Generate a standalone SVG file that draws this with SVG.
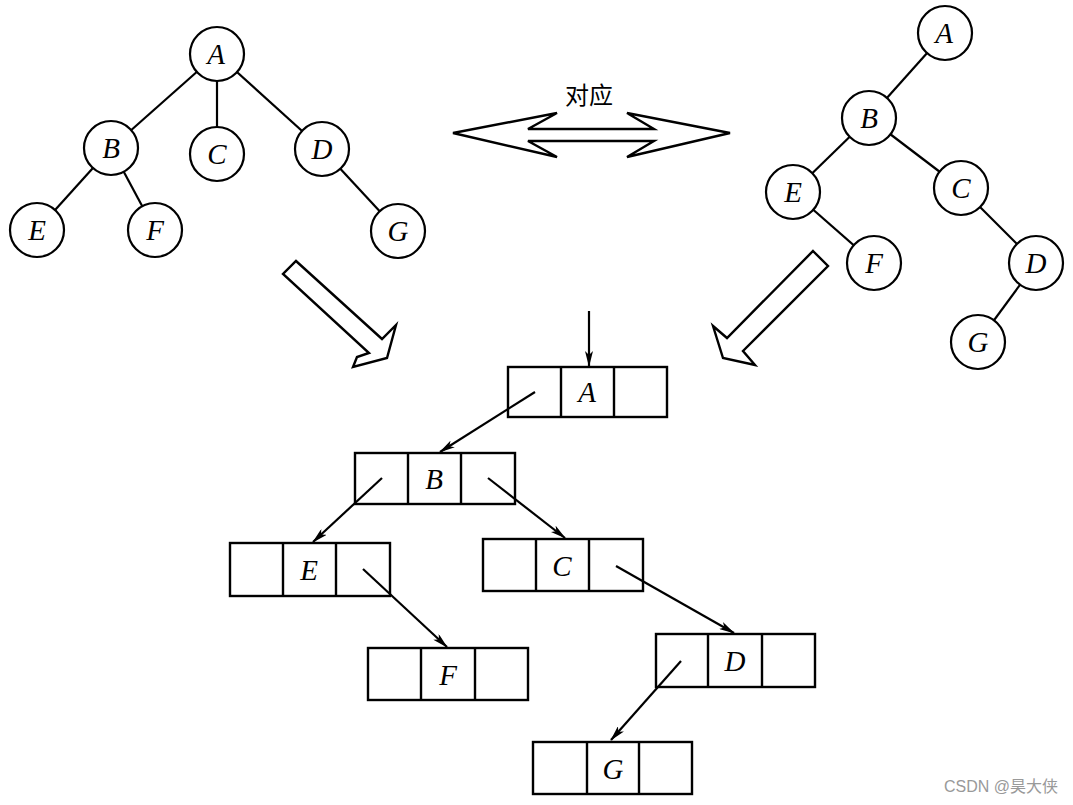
<svg xmlns="http://www.w3.org/2000/svg" width="1073" height="805" viewBox="0 0 1073 805">
<style>
.n circle{fill:#fff;stroke:#000;stroke-width:2.2}
.t{font-family:"Liberation Serif","Times New Roman",serif;font-style:italic;font-size:29px;text-anchor:middle;fill:#000}
.e{stroke:#000;stroke-width:2.2;fill:none}
.b rect,.b line{fill:none;stroke:#000;stroke-width:2.4}
.a{stroke:#000;stroke-width:2.2;fill:none;marker-end:url(#ah)}
.big{fill:#fff;stroke:#000;stroke-width:2.4;stroke-linejoin:miter}
</style>
<defs>
<marker id="ah" viewBox="0 0 16 8" refX="15" refY="4" markerWidth="16" markerHeight="8" markerUnits="userSpaceOnUse" orient="auto">
<path d="M0,0 L16,4 L0,8 L4,4 Z" fill="#000"/>
</marker>
</defs>
<rect width="1073" height="805" fill="#fff"/>

<g id="left-tree-edges">
<line class="e" x1="217" y1="54" x2="111" y2="148"/>
<line class="e" x1="217" y1="54" x2="217" y2="154"/>
<line class="e" x1="217" y1="54" x2="322" y2="149"/>
<line class="e" x1="111" y1="148" x2="37" y2="230"/>
<line class="e" x1="111" y1="148" x2="155" y2="230"/>
<line class="e" x1="322" y1="149" x2="398" y2="231"/>
</g>
<g id="lA" class="n"><circle cx="217" cy="54" r="27"/><text class="t" x="216" y="64">A</text></g>
<g id="lB" class="n"><circle cx="111" cy="148" r="27"/><text class="t" x="111" y="158">B</text></g>
<g id="lC" class="n"><circle cx="217" cy="154" r="27"/><text class="t" x="217" y="164">C</text></g>
<g id="lD" class="n"><circle cx="322" cy="149" r="27"/><text class="t" x="322" y="159">D</text></g>
<g id="lE" class="n"><circle cx="37" cy="230" r="27"/><text class="t" x="37" y="240">E</text></g>
<g id="lF" class="n"><circle cx="155" cy="230" r="27"/><text class="t" x="155" y="240">F</text></g>
<g id="lG" class="n"><circle cx="398" cy="231" r="27"/><text class="t" x="398" y="241">G</text></g>

<g id="right-tree-edges">
<line class="e" x1="945" y1="33" x2="869" y2="118"/>
<line class="e" x1="869" y1="118" x2="793" y2="192"/>
<line class="e" x1="869" y1="118" x2="961" y2="188"/>
<line class="e" x1="793" y1="192" x2="874" y2="263"/>
<line class="e" x1="961" y1="188" x2="1036" y2="263"/>
<line class="e" x1="1036" y1="263" x2="978" y2="342"/>
</g>
<g id="rA" class="n"><circle cx="945" cy="33" r="27"/><text class="t" x="944" y="43">A</text></g>
<g id="rB" class="n"><circle cx="869" cy="118" r="27"/><text class="t" x="869" y="128">B</text></g>
<g id="rE" class="n"><circle cx="793" cy="192" r="27"/><text class="t" x="793" y="202">E</text></g>
<g id="rC" class="n"><circle cx="961" cy="188" r="27"/><text class="t" x="961" y="198">C</text></g>
<g id="rF" class="n"><circle cx="874" cy="263" r="27"/><text class="t" x="874" y="273">F</text></g>
<g id="rD" class="n"><circle cx="1036" cy="263" r="27"/><text class="t" x="1036" y="273">D</text></g>
<g id="rG" class="n"><circle cx="978" cy="342" r="27"/><text class="t" x="978" y="352">G</text></g>

<g id="correspond">
<polygon class="big" points="453,133 557,113 528,129 654,129 627,113 730,133 627,157 654,141 528,141 557,157"/>
<text x="589" y="104" font-family="'Noto Sans CJK SC','Noto Sans',sans-serif" font-size="24" text-anchor="middle">对应</text>
</g>
<g id="hollow-arrows">
<polygon class="big" points="296,261 382,339 396,325 387,358 353,367 357,357 369,353 283,274"/>
<polygon class="big" points="813,251 828,266 743,351 755,365 723,358 713,326 727,338"/>
</g>

<g id="boxA" class="b"><rect x="508" y="367" width="159" height="50"/><line x1="561" y1="367" x2="561" y2="417"/><line x1="614" y1="367" x2="614" y2="417"/><text class="t" x="587" y="402">A</text></g>
<g id="boxB" class="b"><rect x="355" y="453" width="160" height="51"/><line x1="408" y1="453" x2="408" y2="504"/><line x1="461" y1="453" x2="461" y2="504"/><text class="t" x="434" y="489">B</text></g>
<g id="boxE" class="b"><rect x="230" y="543" width="160" height="53"/><line x1="283" y1="543" x2="283" y2="596"/><line x1="336" y1="543" x2="336" y2="596"/><text class="t" x="309" y="580">E</text></g>
<g id="boxC" class="b"><rect x="483" y="539" width="160" height="52"/><line x1="536" y1="539" x2="536" y2="591"/><line x1="589" y1="539" x2="589" y2="591"/><text class="t" x="562" y="576">C</text></g>
<g id="boxF" class="b"><rect x="368" y="648" width="160" height="52"/><line x1="421" y1="648" x2="421" y2="700"/><line x1="475" y1="648" x2="475" y2="700"/><text class="t" x="448" y="685">F</text></g>
<g id="boxD" class="b"><rect x="656" y="634" width="159" height="53"/><line x1="708" y1="634" x2="708" y2="687"/><line x1="762" y1="634" x2="762" y2="687"/><text class="t" x="735" y="671">D</text></g>
<g id="boxG" class="b"><rect x="533" y="742" width="159" height="52"/><line x1="587" y1="742" x2="587" y2="794"/><line x1="639" y1="742" x2="639" y2="794"/><text class="t" x="613" y="779">G</text></g>

<g id="connectors">
<line class="a" x1="589" y1="311" x2="589" y2="366"/>
<line class="a" x1="535" y1="392" x2="440" y2="452"/>
<line class="a" x1="382" y1="478" x2="313" y2="542"/>
<line class="a" x1="488" y1="478" x2="565" y2="538"/>
<line class="a" x1="363" y1="569" x2="447" y2="647"/>
<line class="a" x1="616" y1="566" x2="734" y2="633"/>
<line class="a" x1="681" y1="661" x2="611" y2="740"/>
</g>

<text x="1058" y="792" font-family="'Liberation Sans','Noto Sans CJK SC',sans-serif" font-size="16" fill="#999" text-anchor="end">CSDN @昊大侠</text>
</svg>
